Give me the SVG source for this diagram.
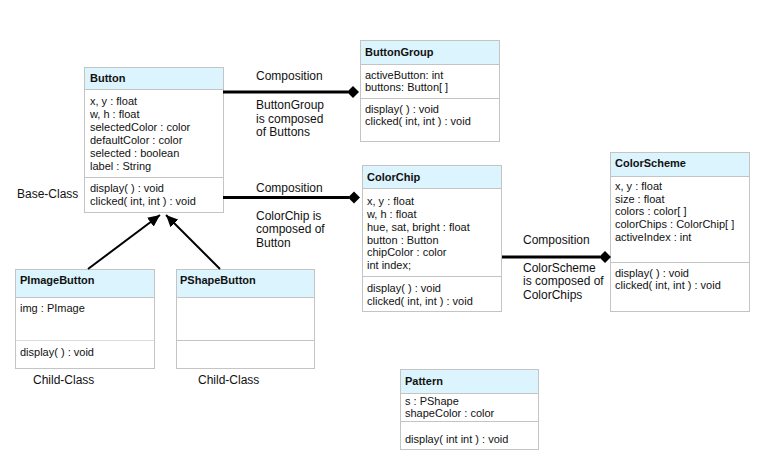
<svg xmlns="http://www.w3.org/2000/svg" width="766" height="464" viewBox="0 0 766 464">
<style>
  .box { fill: #ffffff; stroke: #c4c4c4; stroke-width: 1; }
  .hdr { fill: #dcf4fd; stroke: #c4c4c4; stroke-width: 1; }
  .div { stroke: #c4c4c4; stroke-width: 1; }
  .t { font-family: "Liberation Sans", Arial, sans-serif; font-size: 11px; fill: #111; }
  .tb { font-family: "Liberation Sans", Arial, sans-serif; font-size: 11px; font-weight: bold; fill: #111; }
  .lbl { font-family: "Liberation Sans", Arial, sans-serif; font-size: 12px; fill: #111; }
  .comp { stroke: #000; stroke-width: 3; fill: none; }
  .gen { stroke: #000; stroke-width: 2; fill: none; }
</style>
<defs>
  <marker id="arr" markerUnits="userSpaceOnUse" markerWidth="13" markerHeight="11" refX="12" refY="5.5" orient="auto">
    <path d="M0,0 L12,5.5 L0,11 z" fill="#000"/>
  </marker>
</defs>
<rect width="766" height="464" fill="#ffffff"/>

<g id="Button">
  <rect class="box" x="84.5" y="67.5" width="139" height="145"/>
  <rect class="hdr" x="84.5" y="67.5" width="139" height="22"/>
  <line class="div" x1="84.5" y1="177.5" x2="223.5" y2="177.5"/>
  <text class="tb" x="90" y="82">Button</text>
  <text class="t" x="90" y="105">x, y : float</text>
  <text class="t" x="90" y="118">w, h : float</text>
  <text class="t" x="90" y="131">selectedColor : color</text>
  <text class="t" x="90" y="144">defaultColor : color</text>
  <text class="t" x="90" y="157">selected : boolean</text>
  <text class="t" x="90" y="170">label : String</text>
  <text class="t" x="90" y="192">display( ) : void</text>
  <text class="t" x="90" y="205">clicked( int, int ) : void</text>
</g>

<g id="ButtonGroup">
  <rect class="box" x="360.5" y="40.5" width="139" height="101"/>
  <rect class="hdr" x="360.5" y="40.5" width="139" height="24"/>
  <line class="div" x1="360.5" y1="98.5" x2="499.5" y2="98.5"/>
  <text class="tb" x="365" y="56">ButtonGroup</text>
  <text class="t" x="365" y="79">activeButton: int</text>
  <text class="t" x="365" y="91">buttons: Button[ ]</text>
  <text class="t" x="365" y="113">display( ) : void</text>
  <text class="t" x="365" y="125">clicked( int, int ) : void</text>
</g>

<g id="ColorChip">
  <rect class="box" x="362.5" y="165.5" width="139" height="146"/>
  <rect class="hdr" x="362.5" y="165.5" width="139" height="23"/>
  <line class="div" x1="362.5" y1="276.5" x2="501.5" y2="276.5"/>
  <text class="tb" x="367" y="181">ColorChip</text>
  <text class="t" x="367" y="205">x, y : float</text>
  <text class="t" x="367" y="218">w, h : float</text>
  <text class="t" x="367" y="230.5">hue, sat, bright : float</text>
  <text class="t" x="367" y="243.5">button : Button</text>
  <text class="t" x="367" y="256">chipColor : color</text>
  <text class="t" x="367" y="269">int index;</text>
  <text class="t" x="367" y="292">display( ) : void</text>
  <text class="t" x="367" y="304.5">clicked( int, int ) : void</text>
</g>

<g id="ColorScheme">
  <rect class="box" x="610.5" y="152.5" width="139" height="159"/>
  <rect class="hdr" x="610.5" y="152.5" width="139" height="24"/>
  <line class="div" x1="610.5" y1="262.5" x2="749.5" y2="262.5"/>
  <text class="tb" x="615" y="167">ColorScheme</text>
  <text class="t" x="615" y="190">x, y : float</text>
  <text class="t" x="615" y="202.5">size : float</text>
  <text class="t" x="615" y="215">colors : color[ ]</text>
  <text class="t" x="615" y="228">colorChips : ColorChip[ ]</text>
  <text class="t" x="615" y="240.5">activeIndex : int</text>
  <text class="t" x="615" y="277">display( ) : void</text>
  <text class="t" x="615" y="289">clicked( int, int ) : void</text>
</g>

<g id="PImageButton">
  <rect class="box" x="15.5" y="269.5" width="139" height="99"/>
  <rect class="hdr" x="15.5" y="269.5" width="139" height="28"/>
  <line class="div" x1="15.5" y1="340.5" x2="154.5" y2="340.5" stroke-opacity="0.6"/>
  <text class="tb" x="20" y="284">PImageButton</text>
  <text class="t" x="20" y="312">img : PImage</text>
  <text class="t" x="20" y="356">display( ) : void</text>
</g>

<g id="PShapeButton">
  <rect class="box" x="176.5" y="269.5" width="138" height="99"/>
  <rect class="hdr" x="176.5" y="269.5" width="138" height="28"/>
  <line class="div" x1="176.5" y1="340.5" x2="314.5" y2="340.5"/>
  <text class="tb" x="180" y="283.5">PShapeButton</text>
</g>

<g id="Pattern">
  <rect class="box" x="400.5" y="369.5" width="138" height="80"/>
  <rect class="hdr" x="400.5" y="369.5" width="138" height="24"/>
  <line class="div" x1="400.5" y1="421.5" x2="538.5" y2="421.5"/>
  <text class="tb" x="405" y="385">Pattern</text>
  <text class="t" x="405" y="405">s : PShape</text>
  <text class="t" x="405" y="417">shapeColor : color</text>
  <text class="t" x="405" y="443">display( int int ) : void</text>
</g>

<g id="connectors">
  <line class="comp" x1="223" y1="92" x2="348" y2="92"/>
  <polygon points="347,92 353,86 359,92 353,98" fill="#000"/>
  <text class="lbl" x="256" y="80">Composition</text>
  <text class="lbl" x="256" y="109">ButtonGroup</text>
  <text class="lbl" x="256" y="122.5">is composed</text>
  <text class="lbl" x="256" y="136">of Buttons</text>

  <line class="comp" x1="223" y1="197.5" x2="349" y2="197.5"/>
  <polygon points="348,197.5 354,191.5 360,197.5 354,203.5" fill="#000"/>
  <text class="lbl" x="256" y="192">Composition</text>
  <text class="lbl" x="256" y="219.5">ColorChip is</text>
  <text class="lbl" x="256" y="233">composed of</text>
  <text class="lbl" x="256" y="246.5">Button</text>

  <line class="comp" x1="502" y1="257" x2="600" y2="257"/>
  <polygon points="599,257 605,251 611,257 605,263" fill="#000"/>
  <text class="lbl" x="523" y="243.5">Composition</text>
  <text class="lbl" x="523" y="271.5">ColorScheme</text>
  <text class="lbl" x="523" y="285">is composed of</text>
  <text class="lbl" x="523" y="298.5">ColorChips</text>

  <line class="gen" x1="88" y1="269" x2="160" y2="215" marker-end="url(#arr)"/>
  <line class="gen" x1="220" y1="269" x2="166" y2="215" marker-end="url(#arr)"/>
</g>

<text class="lbl" x="17" y="198">Base-Class</text>
<text class="lbl" x="33" y="383.5">Child-Class</text>
<text class="lbl" x="198" y="383.5">Child-Class</text>
</svg>
